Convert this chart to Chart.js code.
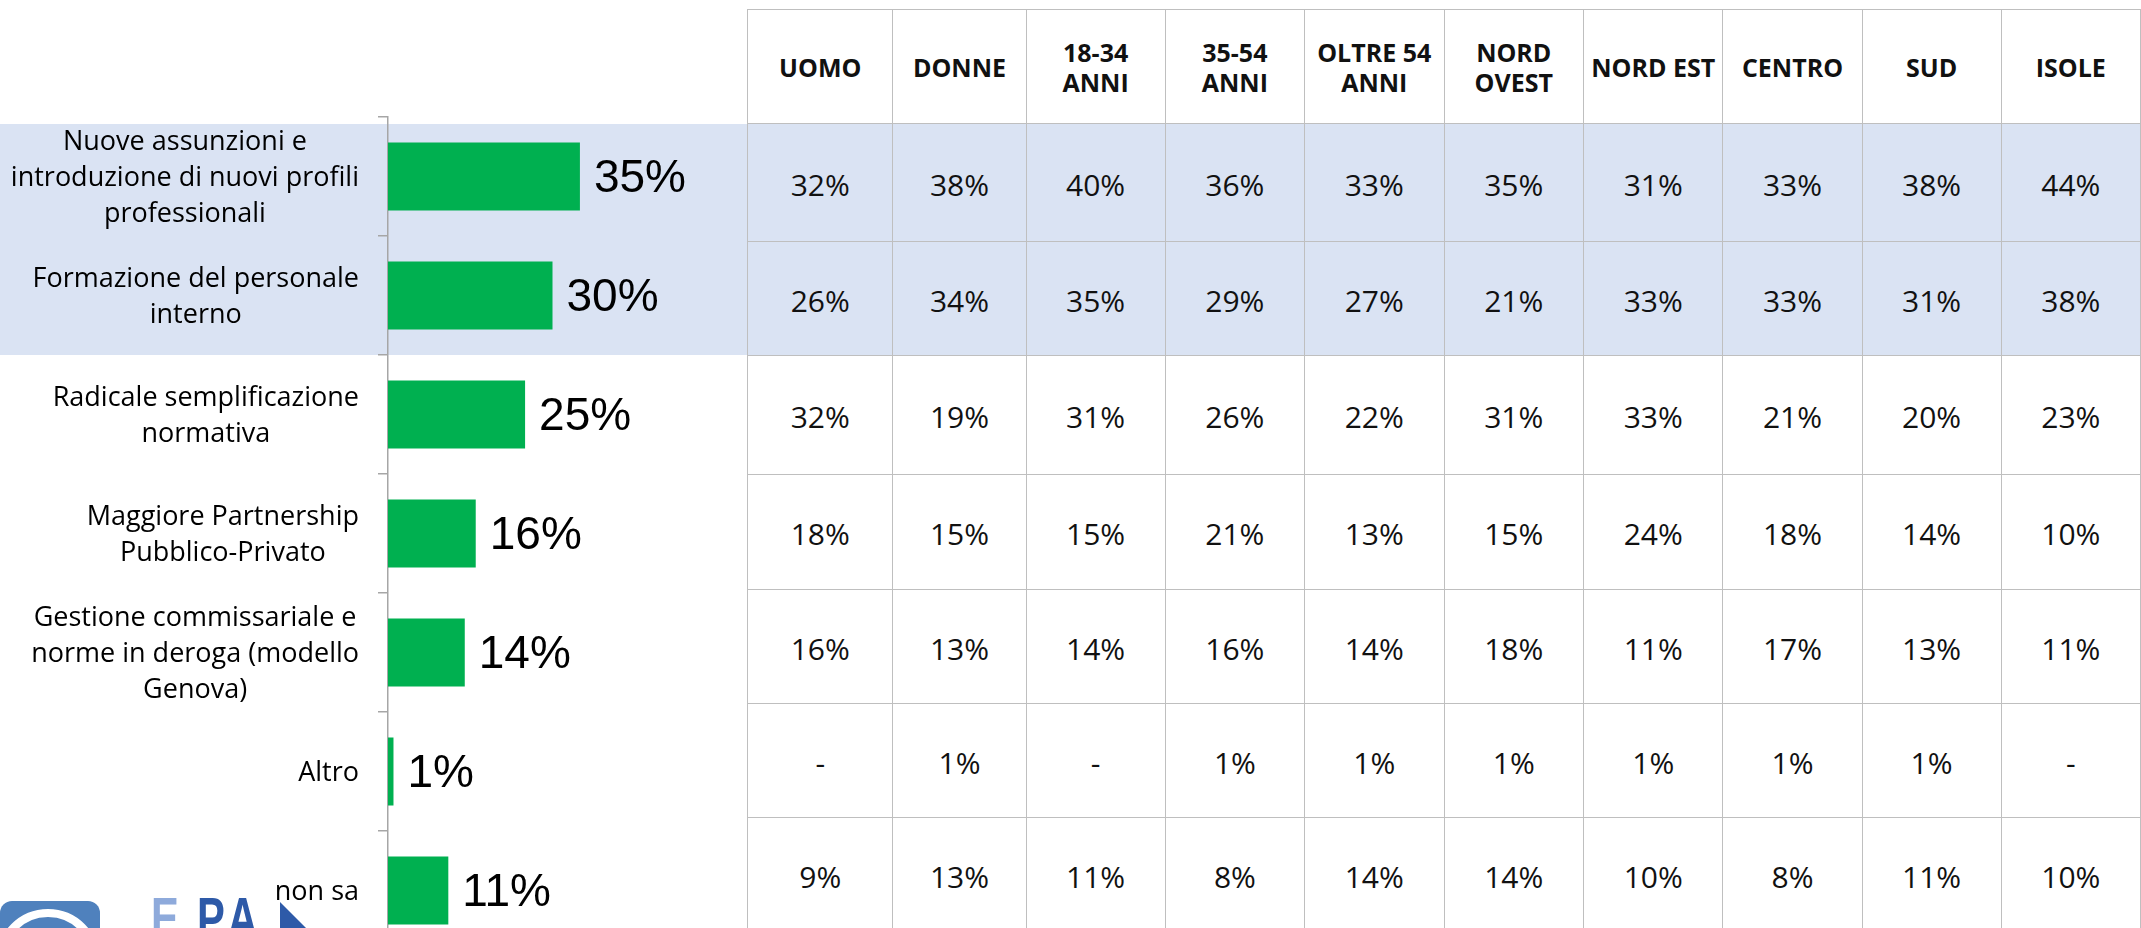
<!DOCTYPE html>
<html lang="it">
  <head>
    <meta charset="UTF-8" />
    <title>Interventi prioritari</title>
    <script src="https://cdn.jsdelivr.net/npm/chart.js"></script>
    <style>
      html, body {
        margin: 0;
        padding: 0;
        width: 2141px;
        height: 928px;
        overflow: hidden;
        background: #fff;
        font-family: "Open Sans", sans-serif;
      }
      .band {
        position: absolute;
        left: 0;
        top: 124px;
        width: 747px;
        height: 231px;
        background: #dae3f3;
      }
      #chart-1 {
        position: absolute;
        left: 0;
        top: 0;
      }
      #breakdown {
        position: absolute;
        left: 747px;
        top: 9px;
        border-collapse: collapse;
        table-layout: fixed;
        color: #111;
      }
      #breakdown td, #breakdown th {
        border: 1px solid #bfbfbf;
        text-align: center;
        vertical-align: middle;
        padding: 0;
      }
      #breakdown th {
        font-weight: 700;
        font-size: 25px;
        line-height: 30px;
      }
      #breakdown td {
        font-size: 30px;
        padding-top: 3px;
      }
      #breakdown tr.hl td {
        background: #dae3f3;
      }
      .logo-box {
        position: absolute;
        left: 0;
        top: 901px;
        width: 100px;
        height: 60px;
        border-radius: 12px;
        background: #4f81bd;
        overflow: hidden;
      }
      .logo-ring {
        position: absolute;
        left: -4px;
        top: 8px;
        width: 88px;
        height: 88px;
        border: 8px solid #fff;
        border-radius: 50%;
      }
      .logo-txt {
        position: absolute;
        top: 889px;
        font: bold 58px "Liberation Sans", Arial, sans-serif;
        line-height: 58px;
        transform-origin: left top;
        transform: scaleX(0.72);
      }
      .logo-tri {
        position: absolute;
        left: 280px;
        top: 902px;
        width: 0;
        height: 0;
        border-top: 26px solid transparent;
        border-left: 26px solid #2e5aa8;
      }
    </style>
  </head>
  <body>
    <div class="band"></div>
    <canvas id="chart-1" width="747" height="960"></canvas>
    <table id="breakdown"></table>
    <div class="logo-box"><div class="logo-ring"></div></div>
    <div class="logo-txt" style="left: 151px; color: #8eaadb">E</div>
    <div class="logo-txt" style="left: 197px; color: #2e5aa8; letter-spacing: 8px">PA</div>
    <div class="logo-tri"></div>
    <script>
      const categories = [
        ["Nuove assunzioni e", "introduzione di nuovi profili", "professionali"],
        ["Formazione del personale", "interno"],
        ["Radicale semplificazione", "normativa"],
        ["Maggiore Partnership", "Pubblico-Privato"],
        ["Gestione commissariale e", "norme in deroga (modello", "Genova)"],
        ["Altro"],
        ["non sa"],
      ];
      const totals = [35, 30, 25, 16, 14, 1, 11];

      const columns = [
        ["UOMO"], ["DONNE"], ["18-34", "ANNI"], ["35-54", "ANNI"], ["OLTRE 54", "ANNI"],
        ["NORD", "OVEST"], ["NORD EST"], ["CENTRO"], ["SUD"], ["ISOLE"],
      ];
      // null = "-"
      const assunzioni = [32, 38, 40, 36, 33, 35, 31, 33, 38, 44];
      const formazione = [26, 34, 35, 29, 27, 21, 33, 33, 31, 38];
      const semplificazione = [32, 19, 31, 26, 22, 31, 33, 21, 20, 23];
      const partnership = [18, 15, 15, 21, 13, 15, 24, 18, 14, 10];
      const commissariale = [16, 13, 14, 16, 14, 18, 11, 17, 13, 11];
      const altro = [null, 1, null, 1, 1, 1, 1, 1, 1, null];
      const nonSa = [9, 13, 11, 8, 14, 14, 10, 8, 11, 10];
      const rows = [assunzioni, formazione, semplificazione, partnership, commissariale, altro, nonSa];

      const colWidths = [147, 134, 141, 141, 141, 141, 141, 140, 141, 141];
      const rowHeights = [118, 114, 119, 115, 114, 114, 114];

      // tabella
      const table = document.getElementById("breakdown");
      let html = "<colgroup>" + colWidths.map((w) => `<col style="width:${w}px">`).join("") + "</colgroup>";
      html += '<tr style="height:114px">' + columns.map((c) => `<th>${c.join("<br>")}</th>`).join("") + "</tr>";
      rows.forEach((r, i) => {
        html += `<tr class="${i < 2 ? "hl" : ""}" style="height:${rowHeights[i]}px">`;
        html += r.map((v) => `<td>${v === null ? "-" : v + "%"}</td>`).join("");
        html += "</tr>";
      });
      table.innerHTML = html;

      const labelRight = 359;
      const lineH = 36;

      const labelsPlugin = {
        id: "labels",
        afterDraw(chart) {
          const ctx = chart.ctx;
          const y = chart.scales.y;
          ctx.save();
          ctx.fillStyle = "#000";
          ctx.textBaseline = "middle";
          ctx.font = '27px "Open Sans"';
          ctx.textAlign = "center";
          categories.forEach((lines, i) => {
            const cy = y.getPixelForValue(i) + 2;
            const w = Math.max(...lines.map((l) => ctx.measureText(l).width));
            const cx = labelRight - w / 2;
            lines.forEach((l, j) => {
              ctx.fillText(l, cx, cy + (j - (lines.length - 1) / 2) * lineH);
            });
          });
          ctx.font = '46px "Liberation Sans", Arial';
          ctx.textAlign = "left";
          chart.getDatasetMeta(0).data.forEach((bar, i) => {
            ctx.fillText(totals[i] + "%", bar.x + 14, bar.y + 3);
          });
          ctx.restore();
        },
      };

      const ctx_1 = document.getElementById("chart-1");
      new Chart(ctx_1, {
        type: "bar",
        data: {
          labels: categories,
          datasets: [
            {
              data: totals,
              backgroundColor: "#00b050",
              borderWidth: 0,
              barPercentage: 0.9,
              categoryPercentage: 0.635,
            },
          ],
        },
        options: {
          indexAxis: "y",
          responsive: false,
          animation: false,
          layout: { padding: { top: 117, right: 30, bottom: 10, left: 0 } },
          plugins: {
            legend: { display: false },
            tooltip: { enabled: false },
          },
          scales: {
            x: { display: false, min: 0, max: 60 },
            y: {
              ticks: { display: false },
              grid: {
                drawOnChartArea: false,
                tickLength: 10,
                color: "#a6a6a6",
                lineWidth: 1.5,
              },
              border: { color: "#a6a6a6", width: 1.5 },
              afterFit: (scale) => {
                scale.width = 388;
              },
            },
          },
        },
        plugins: [labelsPlugin],
      });
    </script>
  </body>
</html>
